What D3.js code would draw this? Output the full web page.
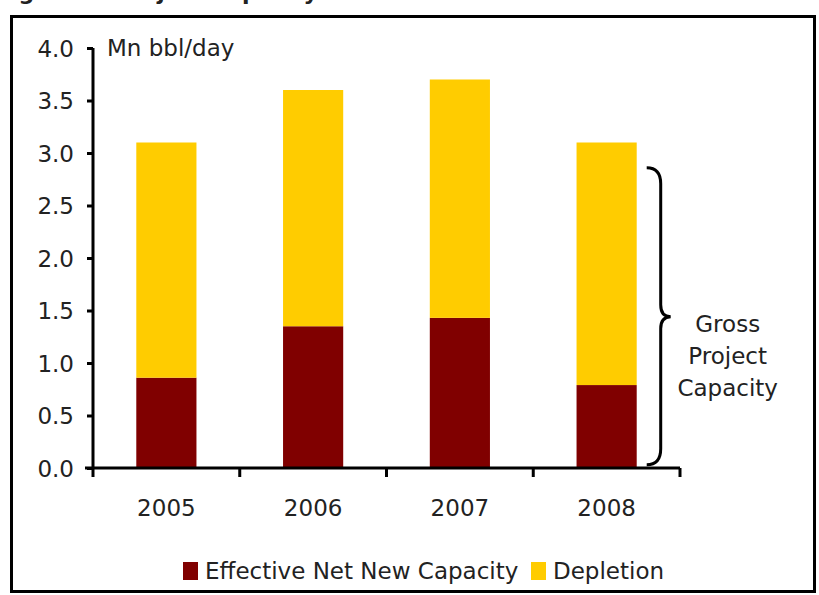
<!DOCTYPE html>
<html>
<head>
<meta charset="utf-8">
<title>Project Capacity</title>
<style>
  body { margin: 0; background: #fff; }
  text { font-family: "DejaVu Sans", Verdana, sans-serif; fill: #222; }
</style>
</head>
<body>
<script src="https://d3js.org/d3.v7.min.js"></script>
<script>
// data
const years = ["2005", "2006", "2007", "2008"];
const netNew = [0.86, 1.35, 1.43, 0.79];
const depletion = [2.24, 2.25, 2.27, 2.31];
const yTicks = [0, 0.5, 1, 1.5, 2, 2.5, 3, 3.5, 4];
const seriesNames = ["Effective Net New Capacity", "Depletion"];
const colors = ["#800000", "#ffcc00"];

const width = 819, height = 595;
const fontSize = 23;
const svg = d3.select("body").append("svg")
    .attr("width", width)
    .attr("height", height);

// title above the frame, cut by the top of the picture
svg.append("text")
    .attr("x", -4)
    .attr("y", 0)
    .attr("font-size", 22)
    .attr("font-weight", "bold")
    .text("Figure 3: Project Capacity Growth");

// frame
svg.append("rect")
    .attr("x", 11.5).attr("y", 16.5)
    .attr("width", 803).attr("height", 575)
    .attr("fill", "none")
    .attr("stroke", "#000")
    .attr("stroke-width", 3);

const margin = {left: 93, top: 48, right: 139, bottom: 127};
const plotW = width - margin.left - margin.right;
const plotH = height - margin.top - margin.bottom;

const x = d3.scaleBand()
    .domain(years)
    .range([0, plotW])
    .paddingInner(0.59)
    .paddingOuter(0.295);
const y = d3.scaleLinear()
    .domain([0, 4])
    .range([plotH, 0]);

const g = svg.append("g")
    .attr("transform", `translate(${margin.left},${margin.top})`);

// stacked bars
const rows = years.map((yr, i) => ({year: yr, net: netNew[i], dep: depletion[i]}));
const stack = d3.stack().keys(["net", "dep"])(rows);

g.selectAll(".series")
    .data(stack)
    .join("g")
    .attr("fill", (d, i) => colors[i])
    .selectAll("rect")
    .data(d => d)
    .join("rect")
    .attr("x", d => x(d.data.year))
    .attr("width", x.bandwidth())
    .attr("y", d => y(d[1]))
    .attr("height", d => y(d[0]) - y(d[1]));

// y axis
const gy = g.append("g")
    .call(d3.axisLeft(y).tickValues(yTicks).tickFormat(d3.format(".1f"))
        .tickSize(6).tickPadding(13));
gy.select(".domain").attr("stroke-width", 3).attr("d", `M0,${plotH}V0`);
gy.selectAll(".tick line").attr("stroke-width", 3);
gy.selectAll(".tick text").attr("font-size", fontSize).attr("dy", "0.36em").attr("fill", "#222");

// x axis: labels at centres, ticks at band boundaries
const gx = g.append("g")
    .attr("transform", `translate(0,${plotH})`)
    .call(d3.axisBottom(x).tickSize(0).tickPadding(32));
gx.select(".domain").attr("stroke-width", 3).attr("d", `M-8,0H${plotW}`);
gx.selectAll(".tick text").attr("font-size", fontSize).attr("fill", "#222");
const bounds = d3.range(years.length + 1).map(i => i * x.step());
gx.selectAll(".bound")
    .data(bounds)
    .join("line")
    .attr("x1", d => d).attr("x2", d => d)
    .attr("y1", 0).attr("y2", 9)
    .attr("stroke", "#000")
    .attr("stroke-width", 3);

// unit label
g.append("text")
    .attr("x", 14)
    .attr("y", 8)
    .attr("font-size", fontSize)
    .text("Mn bbl/day");

// curly brace
const bx = x("2008") + x.bandwidth() + 24;
const bTop = y(2.86), bBot = y(0.03), bMid = y(1.44);
const brace = d3.path();
brace.moveTo(bx - 14, bTop);
brace.quadraticCurveTo(bx, bTop, bx, bTop + 16);
brace.lineTo(bx, bMid - 12);
brace.quadraticCurveTo(bx, bMid, bx + 10, bMid);
brace.quadraticCurveTo(bx, bMid, bx, bMid + 12);
brace.lineTo(bx, bBot - 16);
brace.quadraticCurveTo(bx, bBot, bx - 14, bBot);
g.append("path")
    .attr("d", brace.toString())
    .attr("fill", "none")
    .attr("stroke", "#000")
    .attr("stroke-width", 3);

g.append("text")
    .attr("text-anchor", "middle")
    .attr("font-size", fontSize)
    .selectAll("tspan")
    .data(["Gross", "Project", "Capacity"])
    .join("tspan")
    .attr("x", bx + 67)
    .attr("y", (d, i) => bMid + 15 + i * 32)
    .text(d => d);

// legend
const legend = svg.append("g").attr("transform", "translate(183,562)");
const legendX = [0, 348];
const items = legend.selectAll("g")
    .data(seriesNames)
    .join("g")
    .attr("transform", (d, i) => `translate(${legendX[i]},0)`);
items.append("rect")
    .attr("width", 15).attr("height", 18)
    .attr("fill", (d, i) => colors[i]);
items.append("text")
    .attr("x", 22)
    .attr("y", 17)
    .attr("font-size", fontSize)
    .text(d => d);
</script>
</body>
</html>
